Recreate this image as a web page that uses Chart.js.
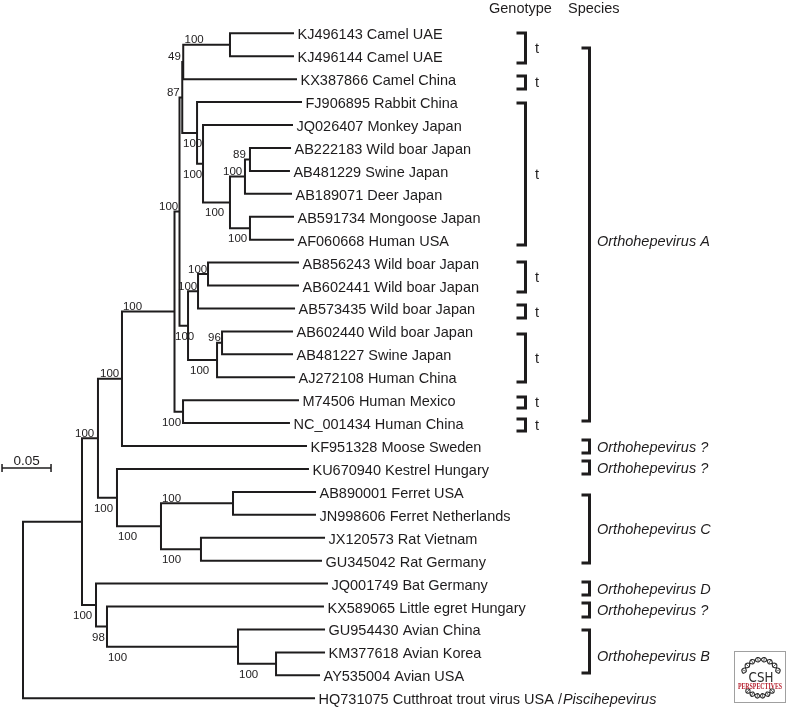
<!DOCTYPE html>
<html><head><meta charset="utf-8">
<script src="https://cdn.jsdelivr.net/npm/chart.js@4/dist/chart.umd.min.js"></script>
<style>html,body{margin:0;padding:0;background:#fff;}canvas{display:block;}</style>
</head><body>
<canvas id="c" width="788" height="709"></canvas>
<script>
// ---- Leaves (top to bottom) ----
const leafLabels = [
 'KJ496143 Camel UAE','KJ496144 Camel UAE','KX387866 Camel China','FJ906895 Rabbit China',
 'JQ026407 Monkey Japan','AB222183 Wild boar Japan','AB481229 Swine Japan','AB189071 Deer Japan',
 'AB591734 Mongoose Japan','AF060668 Human USA','AB856243 Wild boar Japan','AB602441 Wild boar Japan',
 'AB573435 Wild boar Japan','AB602440 Wild boar Japan','AB481227 Swine Japan','AJ272108 Human China',
 'M74506 Human Mexico','NC_001434 Human China','KF951328 Moose Sweden','KU670940 Kestrel Hungary',
 'AB890001 Ferret USA','JN998606 Ferret Netherlands','JX120573 Rat Vietnam','GU345042 Rat Germany',
 'JQ001749 Bat Germany','KX589065 Little egret Hungary','GU954430 Avian China','KM377618 Avian Korea',
 'AY535004 Avian USA','HQ731075 Cutthroat trout virus USA /'
];
const leafItalicSuffix = ['','','','','','','','','','','','','','','','','','','','','','','','','','','','','','Piscihepevirus'];
// distance from root (substitutions/site)
const leafDepth = [
 0.2765,0.2765,0.2796,0.2847,0.2755,0.2735,0.2724,0.2745,0.2765,0.2765,
 0.2816,0.2816,0.2776,0.2755,0.2755,0.2776,0.2816,0.2724,0.2898,0.2918,
 0.2990,0.2990,0.3082,0.3051,0.3112,0.3071,0.3082,0.3082,0.3031,0.2980
];
// ---- Internal nodes ----
const nodeNames = ['root','X1','Y','Z','OA','N180','N87','N49','CamelUAE','G3','G3b','G3c','G3d','N89','G3e',
 'G4','G4a','G4b','G4c','G4d','M','KC','C','Ferret','Rat','BatP','EA','Avian','KU'];
const nodeDepth = [0,0.0602,0.0765,0.1010,0.1546,0.1597,0.1625,0.1635,0.2112,0.1776,0.1837,0.2112,0.2265,0.2316,0.2316,
 0.1684,0.1786,0.1888,0.1980,0.2031,0.1633,0.0959,0.1408,0.2143,0.1816,0.0745,0.0857,0.2194,0.2582];
const nodeChildren = [['X1',29],['Y','BatP'],['Z','KC'],['OA',18],['N180','M'],['N87','G4'],['N49','G3'],['CamelUAE',2],[0,1],
 [3,'G3b'],[4,'G3c'],['G3d','G3e'],['N89',7],[5,6],[8,9],
 ['G4a','G4c'],['G4b',12],[10,11],['G4d',15],[13,14],[16,17],[19,'C'],['Ferret','Rat'],[20,21],[22,23],
 [24,'EA'],[25,'Avian'],[26,'KU'],[27,28]];
// ---- Bootstrap support ----
const supportNodes  = ['CamelUAE','N49','N87','G3','G3b','G3c','G3d','N89','G3e','N180','G4','G4a','G4b','G4c','G4d','M','OA','Z','Y','KC','C','Ferret','Rat','BatP','EA','Avian','KU'];
const supportValues = ['100','49','87','100','100','100','100','89','100','100','100','100','100','100','96','100','100','100','100','100','100','100','100','100','98','100','100'];
const supportX      = [0.1648,0.1480,0.1469,0.1633,0.1633,0.1857,0.2041,0.2143,0.2092,0.1388,0.1551,0.1582,0.1684,0.1704,0.1888,0.1418,0.1020,0.0786,0.0531,0.0724,0.0969,0.1418,0.1418,0.0510,0.0704,0.0867,0.2204];
// ---- Genotype / species groupings (spans in leaf-row units) ----
const genotypeSpans  = [[-0.01,1.30],[1.86,2.43],[3.04,9.23],[9.97,11.28],[11.85,12.42],[13.11,15.21],[15.86,16.34],[16.82,17.34]];
const genotypeLabels = ['t','t','t','t','t','t','t','t'];
const speciesSpans   = [[0.64,16.91],[17.74,18.30],[18.65,19.22],[20.13,23.10],[23.93,24.50],[24.84,25.46],[26.02,27.90]];
const speciesLabels  = ['Orthohepevirus A','Orthohepevirus ?','Orthohepevirus ?','Orthohepevirus C','Orthohepevirus D','Orthohepevirus ?','Orthohepevirus B'];
const speciesLabelShift = [0.3,0,0,0,0,0,0.2];
const columnHeaders = ['Genotype','Species'];
const scaleBarStart = -0.0214, scaleBarLength = 0.05, scaleBarRow = 18.958, scaleBarLabel = '0.05';

// ---- Build geometry from the tree ----
const nodeIndex = {}; nodeNames.forEach((n,i)=>nodeIndex[n]=i);
const nodeRow = {};
function rowOf(ref){
  if (typeof ref === 'number') return ref;
  if (nodeRow[ref] !== undefined) return nodeRow[ref];
  const [a,b] = nodeChildren[nodeIndex[ref]];
  return nodeRow[ref] = (rowOf(a)+rowOf(b))/2;
}
function depthOf(ref){ return typeof ref === 'number' ? leafDepth[ref] : nodeDepth[nodeIndex[ref]]; }
const isUpper = {};
nodeChildren.forEach((ch)=>{ ch.forEach((c,j)=>{ if(typeof c==='string'){ isUpper[c]=(j===0);} }); });

const INK = '#1e1c1d';
const datasets = nodeNames.map((n,k)=>{
  const [a,b] = nodeChildren[k], x = nodeDepth[k];
  return { data:[{x:depthOf(a),y:rowOf(a)},{x:x,y:rowOf(a)},{x:x,y:rowOf(b)},{x:depthOf(b),y:rowOf(b)}],
    showLine:true, borderColor:INK, borderWidth:2, pointRadius:0, borderJoinStyle:'miter', borderCapStyle:'butt', tension:0, fill:false };
});
datasets.push({ data:[{x:scaleBarStart,y:scaleBarRow},{x:scaleBarStart+scaleBarLength,y:scaleBarRow}],
  showLine:true, borderColor:INK, borderWidth:1.5, pointRadius:0, borderCapStyle:'butt', fill:false });

const SANS = '"Liberation Sans", Arial, Helvetica, sans-serif';
const textPlugin = {
  id:'treeText',
  afterDatasetsDraw(chart){
    const ctx = chart.ctx, xs = chart.scales.x, ys = chart.scales.y;
    const X = v => xs.getPixelForValue(v), Y = v => ys.getPixelForValue(v);
    ctx.save();
    ctx.fillStyle = INK; ctx.strokeStyle = INK;
    // leaf labels
    ctx.textBaseline = 'middle'; ctx.textAlign = 'left';
    leafLabels.forEach((t,i)=>{
      const px = X(leafDepth[i]) + 3.5, py = Y(i) + 2;
      ctx.font = '14.5px ' + SANS;
      ctx.fillText(t, px, py);
      if (leafItalicSuffix[i]) {
        const w = ctx.measureText(t).width;
        ctx.font = 'italic 14.5px ' + SANS;
        ctx.fillText(leafItalicSuffix[i], px + w + 1, py);
      }
    });
    // bootstrap values
    ctx.font = '11.5px ' + SANS; ctx.textBaseline = 'alphabetic';
    supportNodes.forEach((n,k)=>{
      const py = Y(rowOf(n));
      ctx.fillText(supportValues[k], X(supportX[k]), isUpper[n] ? py - 1.5 : py + 14);
    });
    // scale bar ticks + label
    const sx0 = X(scaleBarStart), sx1 = X(scaleBarStart+scaleBarLength), sy = Y(scaleBarRow);
    ctx.lineWidth = 1.5; ctx.beginPath();
    ctx.moveTo(sx0, sy-4); ctx.lineTo(sx0, sy+4); ctx.moveTo(sx1, sy-4); ctx.lineTo(sx1, sy+4); ctx.stroke();
    ctx.font = '13.5px ' + SANS; ctx.textAlign = 'center';
    ctx.fillText(scaleBarLabel, (sx0+sx1)/2, sy - 3);
    // headers
    ctx.textAlign = 'left'; ctx.font = '14.5px ' + SANS;
    ctx.fillText(columnHeaders[0], 489, 13);
    ctx.fillText(columnHeaders[1], 568, 13);
    // brackets
    function bracket(x0, x1, y0, y1){ ctx.beginPath(); ctx.moveTo(x0,y0); ctx.lineTo(x1,y0); ctx.lineTo(x1,y1); ctx.lineTo(x0,y1); ctx.stroke(); }
    ctx.lineWidth = 3; ctx.lineJoin = 'miter';
    ctx.textBaseline = 'middle';
    genotypeSpans.forEach((s,k)=>{
      const y0 = Y(s[0]), y1 = Y(s[1]);
      bracket(516.5, 525.5, y0, y1);
      ctx.font = '14.5px ' + SANS;
      ctx.fillText(genotypeLabels[k], 535, (y0+y1)/2 + 1);
    });
    speciesSpans.forEach((s,k)=>{
      const y0 = Y(s[0]), y1 = Y(s[1]);
      bracket(581.5, 589.5, y0, y1);
      ctx.font = 'italic 14.5px ' + SANS;
      ctx.fillText(speciesLabels[k], 597, Y((s[0]+s[1])/2 + speciesLabelShift[k]) + 1);
    });
    // publisher logo
    ctx.lineWidth = 1; ctx.strokeStyle = '#a0a0a0';
    ctx.strokeRect(734.5, 651.5, 51, 51);
    ctx.strokeStyle = '#2a2a2a';
    function helix(cx, cy, r, a0, a1, turns){
      ctx.lineWidth = 1.1;
      for (const sgn of [1,-1]) {
        ctx.beginPath();
        for (let i=0;i<=80;i++){ const t=i/80, a=a0+(a1-a0)*t, rr=r+sgn*2.3*Math.sin(t*Math.PI*turns);
          const px=cx+rr*Math.cos(a), py=cy+rr*Math.sin(a); if(i===0) ctx.moveTo(px,py); else ctx.lineTo(px,py); }
        ctx.stroke();
      }
      ctx.lineWidth = 0.7; ctx.beginPath();
      for (let j=0;j<turns;j++){ const t=(j+0.5)/turns, a=a0+(a1-a0)*t;
        ctx.moveTo(cx+(r-2)*Math.cos(a), cy+(r-2)*Math.sin(a)); ctx.lineTo(cx+(r+2)*Math.cos(a), cy+(r+2)*Math.sin(a)); }
      ctx.stroke();
    }
    helix(761, 678, 18.5, Math.PI*1.08, Math.PI*1.92, 8);
    helix(760, 679, 17, Math.PI*0.2, Math.PI*0.8, 6);
    ctx.fillStyle = '#2a2a2a'; ctx.textAlign = 'center'; ctx.textBaseline = 'alphabetic';
    ctx.save(); ctx.translate(761, 682); ctx.scale(0.85, 1);
    ctx.font = '14px "DejaVu Sans", ' + SANS;
    ctx.fillText('CSH', 0, 0);
    ctx.restore();
    ctx.save(); ctx.translate(760, 688.5); ctx.scale(0.78, 1);
    ctx.fillStyle = '#b5202e'; ctx.font = 'bold 7.5px "Liberation Serif", serif';
    ctx.fillText('PERSPECTIVES', 0, 0);
    ctx.restore();
    ctx.restore();
  }
};

new Chart(document.getElementById('c'), {
  type:'scatter',
  data:{ datasets },
  options:{
    responsive:false, animation:false, devicePixelRatio:1, events:[],
    layout:{ padding:0 },
    plugins:{ legend:{display:false}, tooltip:{enabled:false} },
    scales:{
      x:{ type:'linear', display:false, min:-0.02347, max:0.78061 },
      y:{ type:'linear', display:false, reverse:true, min:-1.4522, max:29.468 }
    }
  },
  plugins:[textPlugin]
});
</script>
</body></html>
